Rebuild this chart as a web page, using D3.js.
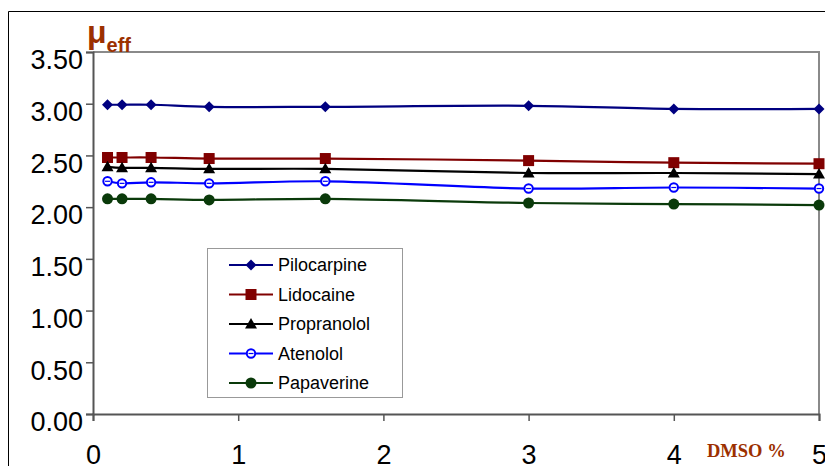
<!DOCTYPE html>
<html><head><meta charset="utf-8">
<script src="https://cdn.jsdelivr.net/npm/d3@7"></script>
<style>body{margin:0;background:#fff;}svg{display:block;}</style>
</head><body>
<svg id="chart" width="825" height="466"></svg>
<script>
const xValues = [0.1, 0.2, 0.4, 0.8, 1.6, 3, 4, 5];
const seriesNames = ["Pilocarpine", "Lidocaine", "Propranolol", "Atenolol", "Papaverine"];
const pilocarpine = [2.99, 2.99, 2.99, 2.97, 2.97, 2.98, 2.95, 2.95];
const lidocaine   = [2.48, 2.48, 2.48, 2.47, 2.47, 2.45, 2.43, 2.42];
const propranolol = [2.39, 2.38, 2.38, 2.37, 2.37, 2.33, 2.33, 2.32];
const atenolol    = [2.25, 2.23, 2.24, 2.23, 2.25, 2.18, 2.19, 2.18];
const papaverine  = [2.08, 2.08, 2.08, 2.07, 2.08, 2.04, 2.03, 2.02];
const yTicks = [0, 0.5, 1, 1.5, 2, 2.5, 3, 3.5];
const xTicks = [0, 1, 2, 3, 4, 5];
const colors = ["#000080", "#800000", "#000000", "#0000ff", "#0a3a0a"];
const symbols = ["diamond", "square", "triangle", "openCircle", "circle"];
const allValues = [pilocarpine, lidocaine, propranolol, atenolol, papaverine];

const svg = d3.select("#chart");
const L = 93, R = 819, T = 52, B = 414;
const x = d3.scaleLinear().domain([0, 5]).range([L, R]);
const y = d3.scaleLinear().domain([0, 3.5]).range([B, T]);

// outer chart border
svg.append("path").attr("d", "M8.5,466 L8.5,11.5 L825,11.5").attr("fill", "none").attr("stroke", "#000").attr("stroke-width", 1);

// plot area border (top/right)
svg.append("path").attr("d", `M${L},${T} L${R},${T} L${R},${B}`).attr("fill", "none").attr("stroke", "#8a8a8a").attr("stroke-width", 2);

// Y axis
const yAxis = d3.axisLeft(y).tickValues(yTicks).tickFormat(d3.format(".2f")).tickSize(7).tickPadding(4);
const gy = svg.append("g").attr("transform", `translate(${L},0)`).call(yAxis);
gy.select(".domain").attr("stroke", "#555").attr("stroke-width", 2);
gy.selectAll(".tick line").attr("stroke", "#555").attr("stroke-width", 1.5);
gy.selectAll(".tick text").attr("font-family", "Liberation Sans, Arial, sans-serif").attr("font-size", 27).attr("fill", "#000").attr("dy", "0.62em").attr("x", -10);

// X axis
const xAxis = d3.axisBottom(x).tickValues(xTicks).tickFormat(d3.format("d")).tickSize(7).tickPadding(4);
const gx = svg.append("g").attr("transform", `translate(0,${B})`).call(xAxis);
gx.select(".domain").attr("stroke", "#555").attr("stroke-width", 2);
gx.selectAll(".tick line").attr("stroke", "#555").attr("stroke-width", 1.5);
gx.selectAll(".tick text").attr("font-family", "Liberation Sans, Arial, sans-serif").attr("font-size", 27).attr("fill", "#000").attr("y", 31).attr("dy", "0.71em");

// Lines
const line = d3.line().x((d, i) => x(xValues[i])).y(d => y(d)).curve(d3.curveCatmullRom.alpha(0.5));

function drawMarker(g, sym, color, cx, cy) {
  if (sym === "diamond") {
    g.append("path").attr("d", `M${cx},${cy-5.5} L${cx+5.5},${cy} L${cx},${cy+5.5} L${cx-5.5},${cy} Z`).attr("fill", color);
  } else if (sym === "square") {
    g.append("rect").attr("x", cx - 5.5).attr("y", cy - 5.5).attr("width", 11).attr("height", 11).attr("fill", color);
  } else if (sym === "triangle") {
    g.append("path").attr("d", `M${cx},${cy-6} L${cx+6},${cy+4.5} L${cx-6},${cy+4.5} Z`).attr("fill", color);
  } else if (sym === "openCircle") {
    g.append("circle").attr("cx", cx).attr("cy", cy).attr("r", 4.2).attr("fill", "#fff").attr("stroke", color).attr("stroke-width", 2);
    g.append("line").attr("x1", cx - 2.5).attr("x2", cx + 2.5).attr("y1", cy).attr("y2", cy).attr("stroke", color).attr("stroke-width", 1.2);
  } else {
    g.append("circle").attr("cx", cx).attr("cy", cy).attr("r", 5.5).attr("fill", color);
  }
}

allValues.forEach((vals, s) => {
  const g = svg.append("g");
  g.append("path").datum(vals).attr("d", line).attr("fill", "none").attr("stroke", colors[s]).attr("stroke-width", 2.2);
  vals.forEach((v, i) => drawMarker(g, symbols[s], colors[s], x(xValues[i]), y(v)));
});

// Legend
const lg = svg.append("g");
lg.append("rect").attr("x", 207.5).attr("y", 248.5).attr("width", 195).attr("height", 149).attr("fill", "#fff").attr("stroke", "#999").attr("stroke-width", 1);
seriesNames.forEach((name, s) => {
  const cy = 265 + s * 29.5;
  lg.append("line").attr("x1", 229).attr("x2", 273).attr("y1", cy).attr("y2", cy).attr("stroke", colors[s]).attr("stroke-width", 2.2);
  drawMarker(lg, symbols[s], colors[s], 251, cy);
  lg.append("text").attr("x", 278).attr("y", cy).attr("dy", "0.36em").attr("font-family", "Liberation Sans, Arial, sans-serif").attr("font-size", 18).attr("fill", "#000").text(name);
});

// Y axis title
const yt = svg.append("text").attr("x", 87).attr("y", 43).attr("font-family", "Liberation Sans, Arial, sans-serif").attr("font-weight", "bold").attr("fill", "#9c3000");
yt.append("tspan").attr("font-size", 32).text("μ");
yt.append("tspan").attr("font-size", 20).attr("dy", 9).text("eff");

// X axis title
svg.append("text").attr("x", 707).attr("y", 457).attr("font-family", "Liberation Serif, Times New Roman, serif").attr("font-weight", "bold").attr("font-size", 18.5).attr("fill", "#9c3000").text("DMSO %");
</script>
</body></html>
